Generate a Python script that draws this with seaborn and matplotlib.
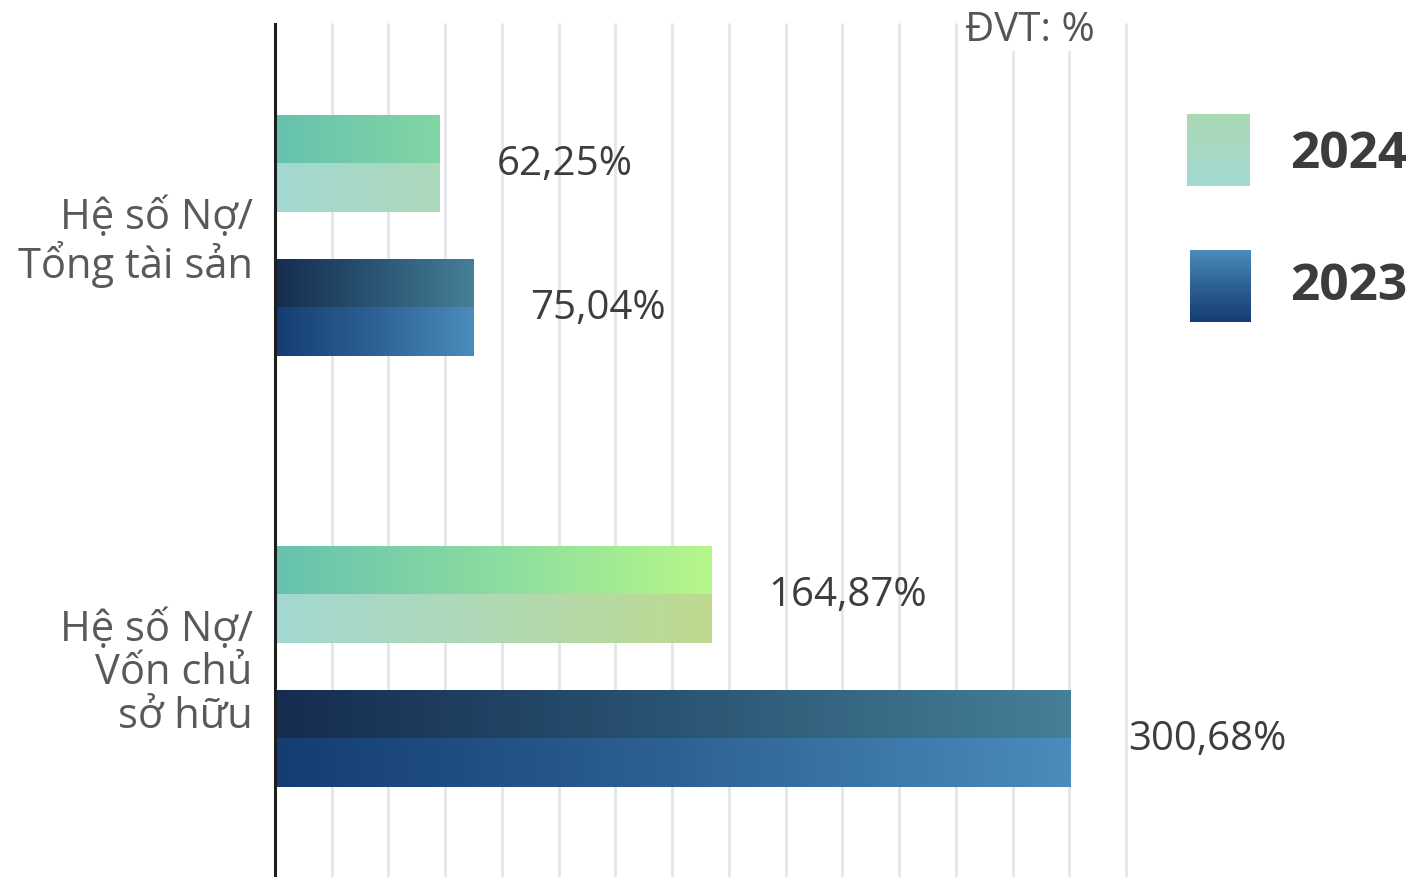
import numpy as np
import pandas as pd
import matplotlib
matplotlib.use("Agg")
import matplotlib.pyplot as plt
from matplotlib.colors import LinearSegmentedColormap
import seaborn as sns

# data
categories = ["Hệ số Nợ/\nTổng tài sản", "Hệ số Nợ/\nVốn chủ\nsở hữu"]
years = ["2024", "2023"]
values_2024 = [62.25, 164.87]
values_2023 = [75.04, 300.68]
value_labels_2024 = ["62,25%", "164,87%"]
value_labels_2023 = ["75,04%", "300,68%"]

df = pd.DataFrame({
    "category": categories * 2,
    "year": [years[0]] * 2 + [years[1]] * 2,
    "value": values_2024 + values_2023,
})

sns.set_theme(style="white")
plt.rcParams["font.family"] = ["Open Sans", "DejaVu Sans"]

# gradient colour maps (upper stripe / lower stripe of each bar)
cmap_2024_top = LinearSegmentedColormap.from_list("t24", ["#66C2AF", "#8BDCA0", "#B6F78A"])
cmap_2024_bot = LinearSegmentedColormap.from_list("b24", ["#A2D9D2", "#B0D8B4", "#BFDA8F"])
cmap_2023_top = LinearSegmentedColormap.from_list("t23", ["#152C50", "#2A5473", "#467F98"])
cmap_2023_bot = LinearSegmentedColormap.from_list("b23", ["#143D72", "#2E6193", "#4A8CBC"])

fig = plt.figure(figsize=(14.06, 8.78), dpi=100)
ax = fig.add_axes([275 / 1406, 0.0, 851 / 1406, 1 - 25 / 878])

sns.barplot(data=df, y="category", x="value", hue="year", hue_order=years,
            orient="h", width=0.668, gap=0.326, legend=False, ax=ax)

xmax = 321.5
ymin, ymax = -0.4907, 1.488

maps = [(cmap_2024_top, cmap_2024_bot), (cmap_2023_top, cmap_2023_bot)]
labels = [value_labels_2024, value_labels_2023]
max_2024 = max(values_2024)

for i, cont in enumerate(ax.containers):
    ctop, cbot = maps[i]
    for j, p in enumerate(cont.patches):
        x0, y0, w, h = p.get_x(), p.get_y(), p.get_width(), p.get_height()
        p.set_visible(False)
        if i == 0:
            frac = np.linspace(0, w / max_2024, 256)
        else:
            frac = np.linspace(0, 1, 256)
        for cm, ya, yb in [(ctop, y0, y0 + h / 2), (cbot, y0 + h / 2, y0 + h)]:
            img = cm(frac)[np.newaxis, :, :3]
            ax.imshow(img, extent=(x0, x0 + w, yb, ya), aspect="auto",
                      interpolation="bilinear", zorder=3)
        ax.annotate(labels[i][j], xy=(x0 + w, y0 + h / 2), xytext=(41, 0),
                    textcoords="offset points", ha="left", va="center",
                    fontsize=29, color="#3D3D3D", zorder=4)

ax.set_xlim(0, xmax)
ax.set_ylim(ymax, ymin)
ax.set_aspect("auto")
ax.set_xticks(np.linspace(0, xmax, 16))
ax.set_xticklabels([])
ax.grid(axis="x", color="#E4E6EA", linewidth=2)
ax.grid(axis="y", visible=False)
for gl in ax.get_xgridlines():
    gl.set_clip_on(False)
ax.set_axisbelow(True)
ax.set_xlabel("")
ax.set_ylabel("")
for s in ["top", "right", "bottom"]:
    ax.spines[s].set_visible(False)
ax.spines["left"].set_color("#1E1E1E")
ax.spines["left"].set_linewidth(2.2)
ax.spines["left"].set_zorder(5)
ax.tick_params(axis="y", length=0, pad=16, labelsize=30, labelcolor="#595959")
ax.tick_params(axis="x", length=0)
for t in ax.get_yticklabels():
    t.set_multialignment("right")
    t.set_linespacing(1.05)

# unit note
fig.text(965 / 1406, 1 - 31 / 878, "ĐVT: %", fontsize=29, color="#555555",
         ha="left", va="center",
         bbox=dict(facecolor="white", edgecolor="none", pad=1))

# legend with gradient squares
legend_cmaps = [LinearSegmentedColormap.from_list("l24", ["#A2D9D2", "#ABD9B5"]),
                LinearSegmentedColormap.from_list("l23", ["#143D72", "#2E6193", "#4A8CBC"])]
legend_boxes = [[1187 / 1406, 1 - 187 / 878, 63 / 1406, 72 / 878],
                [1190 / 1406, 1 - 323 / 878, 61 / 1406, 72 / 878]]
legend_text_y = [1 - 155 / 878, 1 - 287 / 878]
for k, yr in enumerate(years):
    lax = fig.add_axes(legend_boxes[k])
    grad = legend_cmaps[k](np.linspace(0, 1, 128))[:, np.newaxis, :3]
    lax.imshow(grad, aspect="auto", origin="lower", interpolation="bilinear")
    lax.axis("off")
    fig.text(1290 / 1406, legend_text_y[k], yr, fontsize=37, fontweight="bold",
             color="#3C3C3C", ha="left", va="center")

fig.savefig("out.png", dpi=100)
